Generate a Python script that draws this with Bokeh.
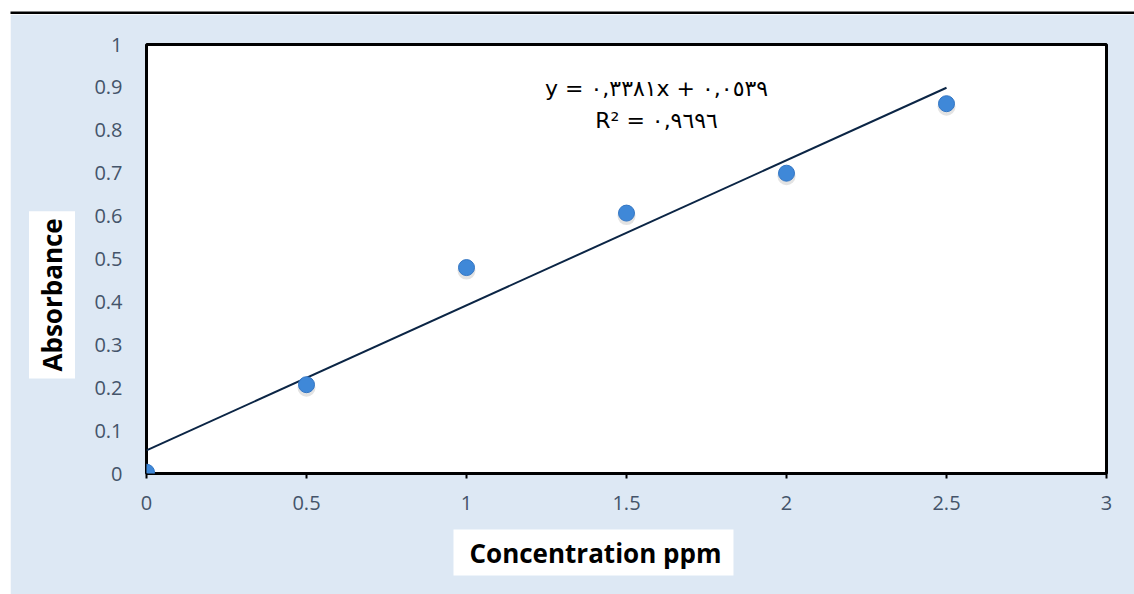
from bokeh.plotting import figure
from bokeh.models import Label, Range1d, FixedTicker, Title
from bokeh.layouts import column, row
from bokeh.embed import file_html
from bokeh.resources import INLINE

# ---- data ----
conc = [0.0, 0.5, 1.0, 1.5, 2.0, 2.5]
absorbance = [0.003, 0.207, 0.480, 0.607, 0.700, 0.862]
slope = 0.3381
intercept = 0.0539
x_ticks = [0, 0.5, 1, 1.5, 2, 2.5, 3]
x_tick_labels = ["0", "0.5", "1", "1.5", "2", "2.5", "3"]
y_ticks = [0, 0.1, 0.2, 0.3, 0.4, 0.5, 0.6, 0.7, 0.8, 0.9, 1]
y_tick_labels = ["0", "0.1", "0.2", "0.3", "0.4", "0.5", "0.6", "0.7", "0.8", "0.9", "1"]
eq_line1 = "y = ٠,٣٣٨١x + ٠,٠٥٣٩"
eq_line2 = "R² = ٠,٩٦٩٦"
x_title = "Concentration ppm"
y_title = "Absorbance"

BG = "#dde8f4"
TICK_COLOR = "#44546a"
FONT = "Open Sans"
EQ_FONT = "DejaVu Sans"

PAGE_W, PAGE_H = 1134, 594
TOP_H = 14          # white strip + black rule
LEFT_W = 10         # white strip on the left

# --- top white strip with black rule (frame = the rule) ---
top = figure(width=PAGE_W, height=TOP_H, output_backend="svg", toolbar_location=None,
             x_axis_location=None, y_axis_location=None,
             min_border_left=LEFT_W, min_border_right=0, min_border_top=11,
             min_border_bottom=0)
top.border_fill_color = "white"
top.background_fill_color = "black"
top.outline_line_color = None

# --- left white strip ---
left = figure(width=LEFT_W, height=PAGE_H - TOP_H, output_backend="svg",
              toolbar_location=None, x_axis_location=None, y_axis_location=None,
              min_border=0)
left.border_fill_color = "white"
left.background_fill_color = "white"
left.outline_line_color = None

# --- main chart ---
W, H = PAGE_W - LEFT_W, PAGE_H - TOP_H
ML, MT = 146 - LEFT_W, 44 - TOP_H
MB, MR = PAGE_H - 473, PAGE_W - 1106
FH = H - MT - MB
p = figure(width=W, height=H, output_backend="svg", toolbar_location=None,
           x_range=Range1d(0, 3), y_range=Range1d(0, 1),
           min_border_left=ML, min_border_right=MR, min_border_top=MT,
           min_border_bottom=MB)
p.border_fill_color = BG
p.background_fill_color = "white"
p.outline_line_color = "black"
p.outline_line_width = 3
p.grid.visible = False

p.xaxis.ticker = FixedTicker(ticks=x_ticks)
p.yaxis.ticker = FixedTicker(ticks=y_ticks)
p.xaxis.major_label_overrides = dict(zip(x_ticks, x_tick_labels))
p.yaxis.major_label_overrides = dict(zip(y_ticks, y_tick_labels))
for ax in (p.xaxis, p.yaxis):
    ax.axis_line_color = None
    ax.minor_tick_line_color = None
    ax.major_label_text_font = FONT
    ax.major_label_text_font_size = "20px"
    ax.major_label_text_color = TICK_COLOR
p.xaxis.major_tick_line_color = "black"
p.xaxis.major_tick_line_width = 2
p.xaxis.major_tick_out = 5
p.xaxis.major_tick_in = 0
p.xaxis.major_label_standoff = 17
p.yaxis.major_tick_line_color = None
p.yaxis.major_tick_out = 0
p.yaxis.major_tick_in = 0
p.yaxis.major_label_standoff = 24

# trend line
x_fit = [min(conc), max(conc)]
y_fit = [slope * v + intercept for v in x_fit]
p.line(x_fit, y_fit, line_color="#0b2545", line_width=2)

# markers (with soft shadow)
px_y = 1.0 / FH
p.scatter(conc, [a - 3 * px_y for a in absorbance], size=18, fill_color="#808080",
          fill_alpha=0.22, line_color=None)
p.scatter(conc, absorbance, size=16, fill_color="#3f88d8", line_color="#3577c4",
          line_width=1)

# equation
for txt, yy in ((eq_line1, 0.897), (eq_line2, 0.822)):
    p.add_layout(Label(x=1.594, y=yy, text=txt, text_align="center",
                       text_baseline="middle", text_font=EQ_FONT,
                       text_font_size="22px", text_color="black"))

# axis titles as Titles in the side panels, on white boxes
p.add_layout(Title(text=x_title, align="left", offset=307,
                   vertical_align="middle", standoff=32,
                   text_font=FONT, text_font_style="bold", text_font_size="26px",
                   text_color="black", background_fill_color="white",
                   padding=dict(left=16, right=12, top=5, bottom=5)), "below")
p.add_layout(Title(text=y_title, align="left", offset=95,
                   vertical_align="middle", standoff=27,
                   text_font=FONT, text_font_style="bold", text_font_size="26px",
                   text_color="black", background_fill_color="white",
                   padding=dict(left=7, right=7, top=5, bottom=5)), "left")

layout = column(top, row(left, p, spacing=0), spacing=0)
open("out.html", "w").write(file_html(layout, INLINE))
